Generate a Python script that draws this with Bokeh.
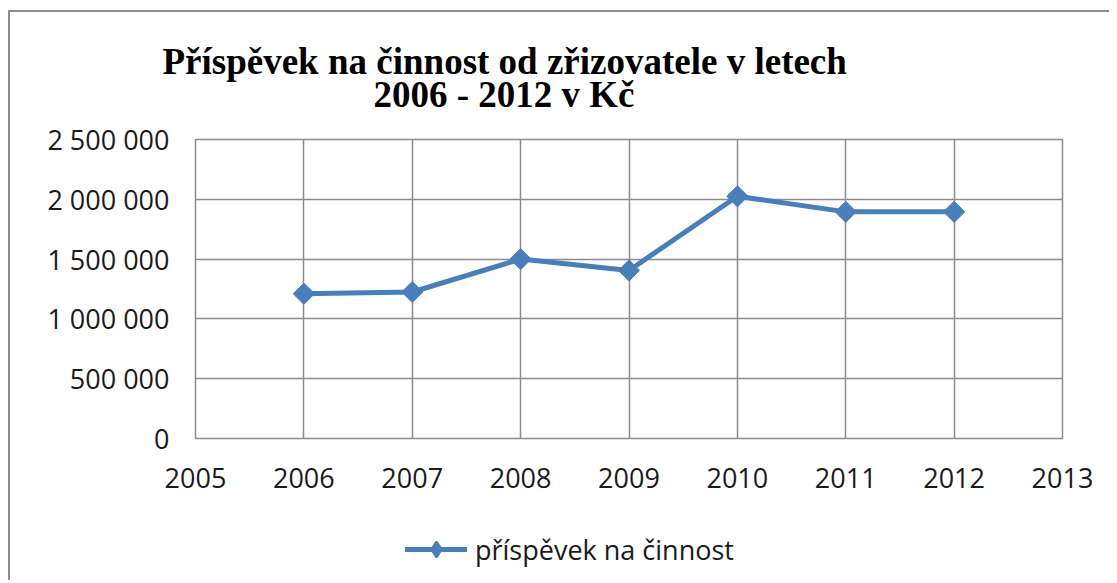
from bokeh.plotting import figure
from bokeh.layouts import column
from bokeh.models import (Range1d, FixedTicker, Title, Legend, LegendItem)
from bokeh.embed import file_html
from bokeh.resources import INLINE
import numpy as np

# ---- data ----
years = [2006, 2007, 2008, 2009, 2010, 2011, 2012]
values = [1210000, 1225000, 1500000, 1405000, 2025000, 1895000, 1895000]
series_name = "příspěvek na činnost"
title_lines = ["Příspěvek na činnost od zřizovatele v letech", "2006 - 2012 v Kč"]
x_ticks = [2005, 2006, 2007, 2008, 2009, 2010, 2011, 2012, 2013]
y_ticks = [0, 500000, 1000000, 1500000, 2000000, 2500000]
y_tick_labels = ["0", "500 000", "1 000 000", "1 500 000", "2 000 000", "2 500 000"]

GRID = "#8c8c8c"
BLUE = "#4a7ebb"
FONT = "Open Sans"
W = 1099

p = figure(width=W, height=498, output_backend="svg", toolbar_location=None,
           x_range=Range1d(2005, 2013), y_range=Range1d(0, 2500000),
           min_border_left=185, min_border_right=47, min_border_top=127,
           min_border_bottom=72)

p.background_fill_color = "white"
p.border_fill_color = "white"
p.outline_line_color = GRID
p.outline_line_width = 1.5

for ax in (p.xaxis[0], p.yaxis[0]):
    ax.axis_line_color = None
    ax.major_tick_line_color = None
    ax.minor_tick_line_color = None
    ax.major_tick_out = 0
    ax.major_tick_in = 0
    ax.major_label_text_font = FONT
    ax.major_label_text_font_size = "27px"
    ax.major_label_text_color = "#1a1a1a"

p.xaxis.ticker = FixedTicker(ticks=x_ticks)
p.xaxis.major_label_overrides = {t: str(t) for t in x_ticks}
p.xaxis.major_label_standoff = 29
p.yaxis.ticker = FixedTicker(ticks=y_ticks)
p.yaxis.major_label_overrides = dict(zip(y_ticks, y_tick_labels))
p.yaxis.major_label_standoff = 26

p.xgrid.ticker = FixedTicker(ticks=x_ticks)
p.ygrid.ticker = FixedTicker(ticks=y_ticks)
p.grid.grid_line_color = GRID
p.grid.grid_line_width = 1.5

p.line(years, values, line_color=BLUE, line_width=5)
p.scatter(years, values, marker="square", angle=np.pi / 4, size=15,
          fill_color=BLUE, line_color=BLUE)

# title: two lines, second added first (nearest the plot)
for t, off, so in [(title_lines[1], 178, 50), (title_lines[0], -33, -70)]:
    p.add_layout(Title(text=t, align="left", offset=off, standoff=so,
                       text_font="Liberation Serif", text_font_style="bold",
                       text_font_size="37px", text_color="black"), "above")

# legend strip under the chart (its renderers lie outside its visible range)
p2 = figure(width=W, height=70, output_backend="svg", toolbar_location=None,
            x_range=Range1d(0, 1), y_range=Range1d(0, 1),
            min_border_left=0, min_border_right=0, min_border_top=0,
            min_border_bottom=0)
p2.xaxis.visible = False
p2.yaxis.visible = False
p2.grid.visible = False
p2.outline_line_color = None
p2.background_fill_color = "white"
p2.border_fill_color = "white"
ln2 = p2.line(years, values, line_color=BLUE, line_width=5, line_cap="round")
mk2 = p2.scatter(years, values, marker="diamond", size=15, line_width=2,
                 fill_color=BLUE, line_color=BLUE)

legend = Legend(items=[LegendItem(label=series_name, renderers=[ln2, mk2])],
                location=(210, 11), orientation="horizontal",
                glyph_width=62, glyph_height=40, label_height=40,
                label_standoff=8, padding=0, margin=0,
                border_line_color=None, background_fill_alpha=0,
                label_text_font=FONT, label_text_font_size="27px",
                label_text_color="#1a1a1a")
p2.add_layout(legend, "center")

layout = column(p, p2, spacing=0,
                styles={"border-left": "2px solid #8c8c8c",
                        "border-top": "2px solid #8c8c8c",
                        "margin-top": "10px", "margin-left": "8px"})

open("out.html", "w").write(file_html(layout, INLINE))
